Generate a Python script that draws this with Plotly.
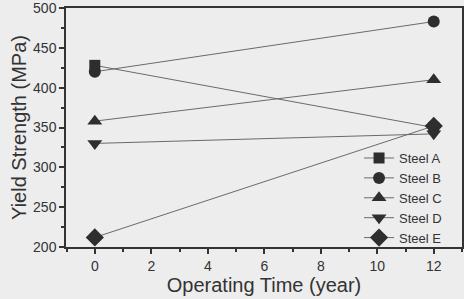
import plotly.graph_objects as go

years = [0, 12]
series_names = ["Steel A", "Steel B", "Steel C", "Steel D", "Steel E"]
steel_a = [428, 350]
steel_b = [420, 483]
steel_c = [358, 410]
steel_d = [330, 342]
steel_e = [212, 352]
symbols = ["square", "circle", "triangle-up", "triangle-down", "diamond"]

values = [steel_a, steel_b, steel_c, steel_d, steel_e]
sizes = [11, 12, 13, 13, 14]

fig = go.Figure()
for name, vals, sym, sz in zip(series_names, values, symbols, sizes):
    fig.add_trace(go.Scatter(
        x=years, y=vals, name=name, mode="lines+markers",
        line=dict(color="#6a6a6a", width=1),
        marker=dict(symbol=sym, size=sz, color="#2e2e2e"),
    ))

axis_common = dict(
    showline=True, linecolor="#333333", linewidth=1.5, mirror=True,
    ticks="outside", tickcolor="#333333", ticklen=5, tickwidth=1.5,
    showgrid=False, zeroline=False, automargin=False,
    ticklabeloverflow="allow",
    tickfont=dict(family="Liberation Sans, Arial", size=14, color="#333333"),
)

fig.update_layout(
    width=464, height=299,
    margin=dict(l=66, r=2, t=8, b=52),
    paper_bgcolor="#ededed", plot_bgcolor="#ededed",
    font=dict(family="Liberation Sans, Arial", color="#333333"),
    xaxis=dict(range=[-1.02, 13], dtick=2, tick0=0,
               minor=dict(dtick=1, ticks="outside", ticklen=3, tickcolor="#333333"),
               title=dict(text="Operating Time (year)", font=dict(size=20), standoff=4),
               **axis_common),
    yaxis=dict(range=[200, 500], dtick=50,
               minor=dict(dtick=25, ticks="outside", ticklen=3, tickcolor="#333333"),
               title=dict(text="Yield Strength (MPa)", font=dict(size=20), standoff=1),
               **axis_common),
    legend=dict(x=0.74, y=0.435, xanchor="left", yanchor="top",
                bgcolor="rgba(0,0,0,0)", font=dict(size=13, color="#333333"),
                tracegroupgap=0, itemwidth=30),
    showlegend=True,
)

fig.write_html("out.html",
               config={"displayModeBar": False},
               post_script="document.body.style.margin='0';document.body.style.background='#ededed';")
